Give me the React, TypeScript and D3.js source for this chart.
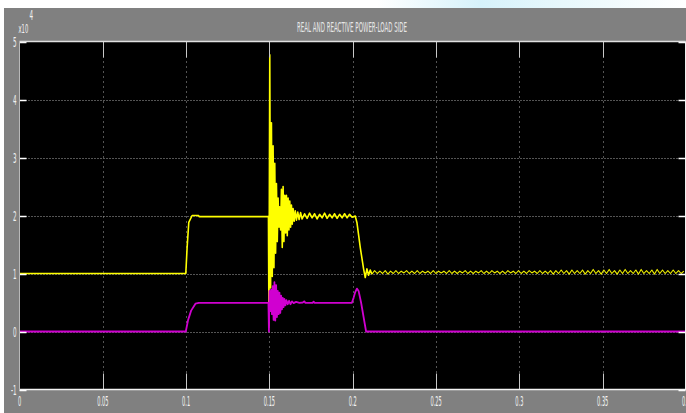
import React from "react";
import * as d3 from "d3";

// ---- data (power values in units of 1e4) ----
const xTicks = [0, 0.05, 0.1, 0.15, 0.2, 0.25, 0.3, 0.35, 0.4];
const xTickLabels = ["0", "0.05", "0.1", "0.15", "0.2", "0.25", "0.3", "0.35", "0.4"];
const yTicks = [-1, 0, 1, 2, 3, 4, 5];
const yTickLabels = ["-1", "0", "1", "2", "3", "4", "5"];
const title = "REAL AND REACTIVE POWER-LOAD SIDE";

// Real power P (yellow): transient part [time, value]
const realPowerHead: [number, number][] = [
  [0, 1.0], [0.0998, 1.0], [0.1006, 1.45], [0.1016, 1.88], [0.1036, 2.0], [0.1074, 2.0], [0.1078, 1.98],
  [0.1494, 1.98], [0.1497, 0.1], [0.1502, 4.77], [0.1507, 0.75], [0.1512, 3.6], [0.1517, 0.95],
  [0.1522, 3.2], [0.1527, 1.1], [0.1532, 2.9], [0.1537, 1.35], [0.1542, 2.55], [0.1547, 1.55],
  [0.1552, 2.3], [0.1557, 1.8], [0.1562, 2.15], [0.1567, 1.75], [0.1572, 2.45], [0.1577, 1.45],
  [0.1582, 2.5], [0.1587, 1.55], [0.1592, 2.35], [0.1597, 1.7], [0.1602, 2.35], [0.1607, 1.65],
  [0.1612, 2.3], [0.1617, 1.75], [0.1622, 2.25], [0.1627, 1.8], [0.1632, 2.18], [0.1637, 1.85],
  [0.1642, 2.12], [0.1648, 1.9], [0.1655, 2.08], [0.1662, 1.92], [0.167, 2.06], [0.1678, 1.93],
  [0.1687, 2.05], [0.1696, 1.94], [0.1711, 2.03], [0.1726, 1.95], [0.1741, 2.04], [0.1756, 1.96],
  [0.1771, 2.03], [0.1786, 1.94], [0.1801, 2.02], [0.1816, 1.96], [0.1831, 2.04], [0.1846, 1.95],
  [0.1861, 2.02], [0.1876, 1.96], [0.1891, 2.03], [0.1906, 1.95], [0.1921, 2.02], [0.1936, 1.96],
  [0.1951, 2.03], [0.1966, 1.96], [0.1981, 2.02], [0.1996, 1.97], [0.2015, 1.99], [0.2025, 1.88],
  [0.2045, 1.45], [0.2065, 1.08], [0.2075, 0.93], [0.2085, 1.08], [0.2095, 0.97], [0.2105, 1.06],
  [0.2115, 0.99],
];
// Real power ripple after the load step, sampled every 0.0016 s from 0.2131 s
const realTailStart = 0.2131;
const realTailStep = 0.0016;
const realPowerTail = [
  1.05, 1.0, 1.04, 1.0, 1.05, 0.99, 1.04, 1.0, 1.05, 1.0, 1.04, 1.01, 1.05, 1.0, 1.04, 1.0,
  1.05, 1.0, 1.04, 1.01, 1.04, 1.0, 1.05, 1.0, 1.04, 1.01, 1.04, 1.0, 1.05, 1.0, 1.04, 1.0,
  1.04, 1.01, 1.05, 1.0, 1.04, 1.0, 1.04, 1.01, 1.05, 1.0, 1.04, 1.0, 1.05, 1.01, 1.04, 1.0,
  1.04, 1.0, 1.05, 1.01, 1.04, 1.0, 1.05, 1.0, 1.04, 1.0, 1.05, 1.01, 1.04, 1.0, 1.05, 1.0,
  1.04, 1.0, 1.05, 0.99, 1.05, 1.0, 1.06, 1.0, 1.05, 0.99, 1.06, 1.0, 1.05, 1.0, 1.06, 0.99,
  1.05, 1.0, 1.07, 1.0, 1.05, 0.99, 1.06, 1.0, 1.07, 1.0, 1.05, 0.99, 1.06, 1.0, 1.07, 1.0,
  1.05, 1.0, 1.06, 0.99, 1.07, 1.0, 1.05, 1.0, 1.06, 0.99, 1.07, 1.0, 1.06, 1.0, 1.05, 1.0,
  1.06, 1.0, 1.05, 1.0, 1.04,
];

// Reactive power Q (magenta) [time, value]
const reactivePower: [number, number][] = [
  [0, 0], [0.0998, 0], [0.1012, 0.2], [0.103, 0.36], [0.1056, 0.48], [0.1076, 0.495], [0.1494, 0.495],
  [0.1497, 0.0], [0.15, 0.7], [0.1505, 0.35], [0.151, 0.72], [0.1515, 0.3], [0.152, 0.78], [0.1525, 0.2],
  [0.153, 0.85], [0.1535, 0.19], [0.154, 0.8], [0.1545, 0.25], [0.155, 0.7], [0.1555, 0.3], [0.156, 0.67],
  [0.1565, 0.32], [0.157, 0.62], [0.1575, 0.38], [0.158, 0.58], [0.1585, 0.42], [0.159, 0.56], [0.1596, 0.45],
  [0.1602, 0.54], [0.161, 0.47], [0.1618, 0.53], [0.1626, 0.47], [0.1635, 0.52], [0.1645, 0.49], [0.166, 0.51],
  [0.168, 0.495], [0.17, 0.5], [0.171, 0.52], [0.1715, 0.495], [0.176, 0.495], [0.1765, 0.515], [0.177, 0.495],
  [0.1995, 0.495], [0.2005, 0.58], [0.2015, 0.68], [0.2025, 0.74], [0.2035, 0.7], [0.205, 0.5], [0.2065, 0.25],
  [0.208, 0.0], [0.4, 0.0],
];

const W = 686;
const H = 413;
const L = 19.5, R = 685.5, T = 41.5, B = 389.5;

export default function App() {
  const x = d3.scaleLinear().domain([0, 0.4]).range([L, R + 0.5]);
  const y = d3.scaleLinear().domain([-1, 5]).range([B, T]);

  const realTail: [number, number][] = [
    realPowerHead[realPowerHead.length - 1],
    ...realPowerTail.map((v, i) => [realTailStart + i * realTailStep, v] as [number, number]),
  ];

  const line = d3
    .line<[number, number]>()
    .x((d) => x(d[0]))
    .y((d) => y(d[1]));

  const labelStyle = {
    fontFamily: "DejaVu Sans, sans-serif",
    fontSize: 14,
    fill: "#f2f2f2",
  } as const;

  return (
    <div style={{ position: "fixed", left: 0, top: 0, width: W, height: H }}>
      <svg width={W} height={H} style={{ display: "block" }}>
        <defs>
          <clipPath id="plotClip">
            <rect x={L} y={T} width={R - L} height={B - T} />
          </clipPath>
          <linearGradient id="sky" x1="0" x2="1" y1="0" y2="0">
            <stop offset="0" stopColor="#ffffff" />
            <stop offset="0.55" stopColor="#ffffff" />
            <stop offset="0.7" stopColor="#d6f2fb" />
            <stop offset="0.82" stopColor="#e8f8fc" />
            <stop offset="1" stopColor="#ffffff" />
          </linearGradient>
        </defs>
        <rect x={0} y={0} width={W} height={H} fill="#ffffff" />
        <rect x={0} y={0} width={W} height={8} fill="url(#sky)" />
        <rect x={4} y={8} width={W - 4} height={H - 8} fill="#808080" />
        <rect x={L} y={T} width={R - L} height={B - T} fill="#000000" />

        {/* grid */}
        {yTicks.slice(1, -1).map((t) => (
          <line key={"gy" + t} x1={L} x2={R} y1={Math.round(y(t)) + 0.5} y2={Math.round(y(t)) + 0.5}
            stroke="#a8a8a8" strokeWidth={1} strokeDasharray="1,2" />
        ))}
        {xTicks.slice(1, -1).map((t) => (
          <line key={"gx" + t} x1={Math.round(x(t)) + 0.5} x2={Math.round(x(t)) + 0.5} y1={T} y2={B}
            stroke="#a8a8a8" strokeWidth={1} strokeDasharray="1,4" />
        ))}

        {/* data */}
        <g clipPath="url(#plotClip)">
          <path d={line(realPowerHead) ?? ""} fill="none" stroke="#ffff00" strokeWidth={1.6} strokeLinejoin="round" />
          <path d={line(realTail) ?? ""} fill="none" stroke="#f0f000" strokeWidth={1.1} strokeLinejoin="round" />
          <path d={line(reactivePower) ?? ""} fill="none" stroke="#d000d0" strokeWidth={1.8} strokeLinejoin="round" />
        </g>

        {/* ticks */}
        {xTicks.slice(1, -1).map((t) => (
          <g key={"tx" + t}>
            <line x1={Math.round(x(t)) + 0.5} x2={Math.round(x(t)) + 0.5} y1={T} y2={T + 16} stroke="#c8c8c8" />
            <line x1={Math.round(x(t)) + 0.5} x2={Math.round(x(t)) + 0.5} y1={B} y2={B - 16} stroke="#c8c8c8" />
          </g>
        ))}
        {yTicks.map((t) => (
          <g key={"ty" + t}>
            <line x1={L} x2={L + 7} y1={Math.round(y(t)) + 0.5} y2={Math.round(y(t)) + 0.5} stroke="#ffffff" strokeWidth={1.5} />
            <line x1={R} x2={R - 7} y1={Math.round(y(t)) + 0.5} y2={Math.round(y(t)) + 0.5} stroke="#ffffff" strokeWidth={1.5} />
          </g>
        ))}

        {/* frame */}
        <line x1={L} x2={R} y1={T} y2={T} stroke="#e0e0e0" strokeWidth={1.5} />
        <line x1={L} x2={R + 1} y1={B} y2={B} stroke="#f4f4f4" strokeWidth={1.5} />
        <line x1={L} x2={L} y1={T} y2={B} stroke="#b8b8b8" strokeWidth={1} />
        <line x1={R} x2={R} y1={T} y2={B} stroke="#f0f0f0" strokeWidth={1} />

        {/* x tick labels */}
        {xTicks.map((t, i) => (
          <text key={"lx" + t} transform={`translate(${x(t)},${406}) scale(0.36,1)`} textAnchor="middle" {...labelStyle}>
            {xTickLabels[i]}
          </text>
        ))}
        {/* y tick labels */}
        {yTicks.map((t, i) => (
          <text key={"ly" + t} transform={`translate(${16.5},${y(t) + 5}) scale(0.4,1)`} textAnchor="end" {...labelStyle}>
            {yTickLabels[i]}
          </text>
        ))}
        {/* exponent */}
        <text transform="translate(18.5,33) scale(0.4,1)" {...labelStyle} fontSize={13}>x10</text>
        <text transform="translate(29.5,20) scale(0.4,1)" {...labelStyle} fontSize={14}>4</text>

        {/* title */}
        <text x={352} y={32} textAnchor="middle" fontFamily="DejaVu Sans, sans-serif" fontSize={14}
          fill="#e6e6e6" textLength={110} lengthAdjust="spacingAndGlyphs">
          {title}
        </text>
      </svg>
    </div>
  );
}
